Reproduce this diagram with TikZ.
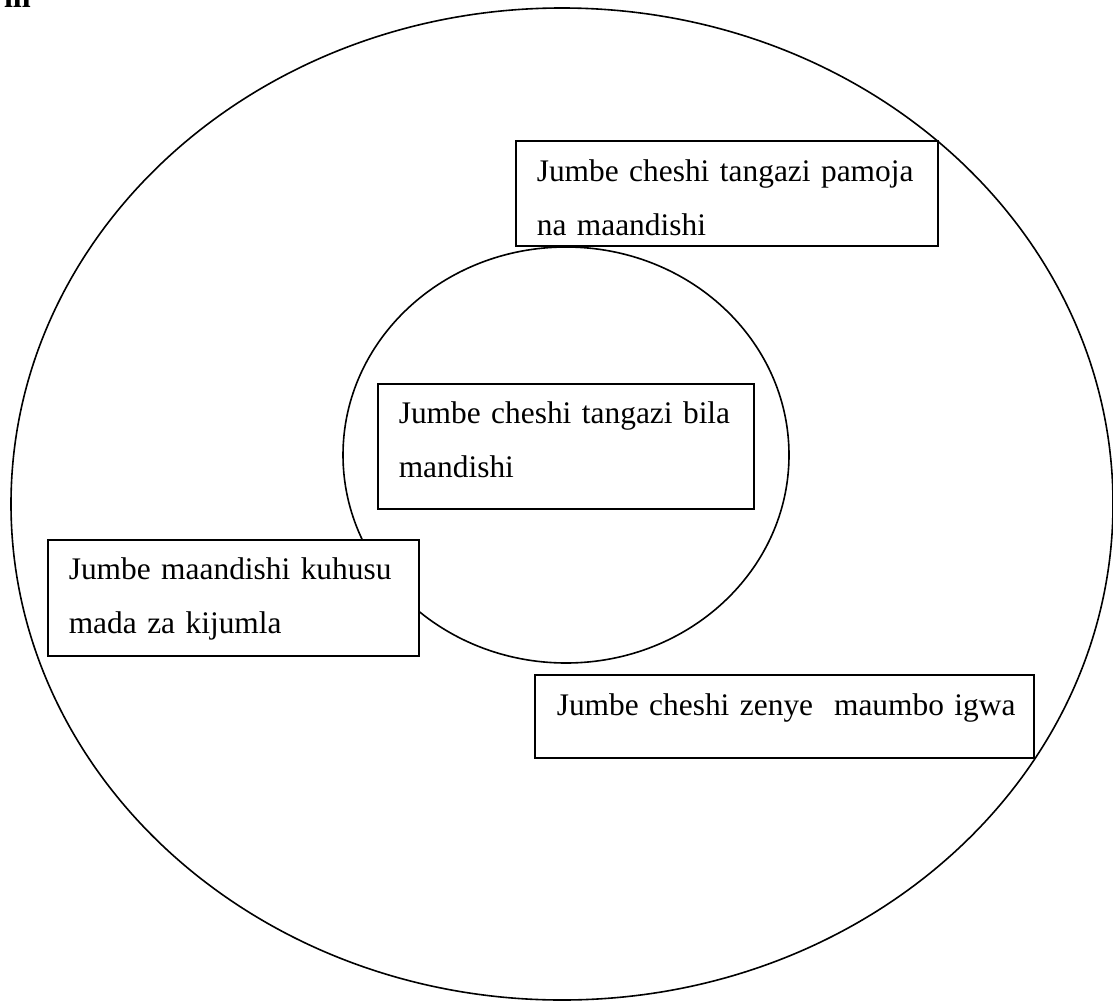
\documentclass[tikz,border=0pt]{standalone}
\usepackage{fontspec}
\setmainfont{Liberation Serif}
\usetikzlibrary{shapes.geometric}
\begin{document}
\begin{tikzpicture}[
        x=0.5pt, y=-0.5pt,
        every node/.style={font=\fontsize{15.7}{27}\selectfont},
        ring/.style={draw, ellipse, line width=0.8pt, inner sep=0pt},
        jbox/.style={draw, fill=white, rectangle, line width=0.8pt, anchor=north west, align=left, inner xsep=10.5pt, inner ysep=0pt},
    ]
    \useasboundingbox (0,0) rectangle (1113,1001);
    \node[anchor=base west, font=\fontsize{16}{27}\selectfont\bfseries] (head) at (-3,7) {iii};
    % the two rings
    \node[ring, minimum width=551pt, minimum height=496pt] (outer) at (562,504) {};
    \node[ring, minimum width=223pt, minimum height=208pt] (inner) at (566,455) {};
    % the boxes
    \node[jbox, text width=190pt, text height=20.5pt, text depth=32pt] (pamoja) at (515,140)
        {\mbox{Jumbe cheshi tangazi pamoja}\\\mbox{na maandishi}};
    \node[jbox, text width=167pt, text height=20pt, text depth=42.5pt] (bila) at (377,383)
        {\mbox{Jumbe cheshi tangazi bila}\\\mbox{mandishi}};
    \node[jbox, text width=164.5pt, text height=20pt, text depth=38pt] (kijumla) at (47,539)
        {\mbox{Jumbe maandishi kuhusu}\\\mbox{mada za kijumla}};
    \node[jbox, inner xsep=11pt, text width=227.5pt, text height=20.5pt, text depth=21pt] (igwa) at (534,674)
        {\mbox{Jumbe cheshi zenye\ \ maumbo igwa}};
\end{tikzpicture}
\end{document}
